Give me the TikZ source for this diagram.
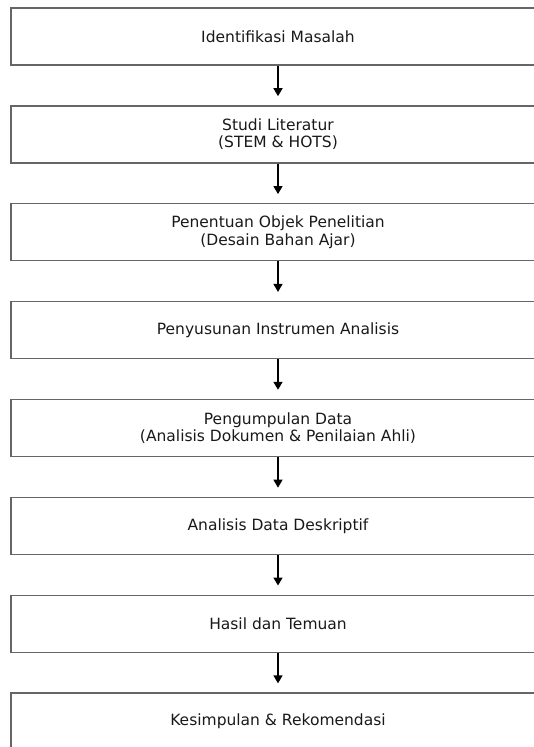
\documentclass[tikz,border=0pt]{standalone}
\usepackage{fontspec}
\setmainfont{DejaVu Sans}
\usetikzlibrary{arrows.meta,positioning}

\begin{document}
\begin{tikzpicture}[->,>={Triangle[width=9pt,length=8pt]},node distance=97.86pt]
  \tikzstyle{every node}=[font=\fontsize{15.5}{17}\selectfont,text=black!90]
  \tikzstyle{stage}=[draw=black!60,line width=1.3pt,minimum width=534pt,minimum height=57pt,align=center,inner sep=0pt]

  \useasboundingbox (-278pt,36.5pt) rectangle (255pt,-710.5pt);

  \node[stage]         (A)                {Identifikasi Masalah};
  \node[stage]         (B) [below of=A]   {Studi Literatur\\(STEM \& HOTS)};
  \node[stage]         (C) [below of=B]   {Penentuan Objek Penelitian\\(Desain Bahan Ajar)};
  \node[stage]         (D) [below of=C]   {Penyusunan Instrumen Analisis};
  \node[stage]         (E) [below of=D]   {Pengumpulan Data\\(Analisis Dokumen \& Penilaian Ahli)};
  \node[stage]         (F) [below of=E]   {Analisis Data Deskriptif};
  \node[stage]         (G) [below of=F]   {Hasil dan Temuan};
  \node[stage]         (H) [below of=G]   {Kesimpulan \& Rekomendasi};

  \path[line width=1.4pt,shorten >=9pt]
        (A) edge (B)
        (B) edge (C)
        (C) edge (D)
        (D) edge (E)
        (E) edge (F)
        (F) edge (G)
        (G) edge (H);
\end{tikzpicture}
\end{document}
